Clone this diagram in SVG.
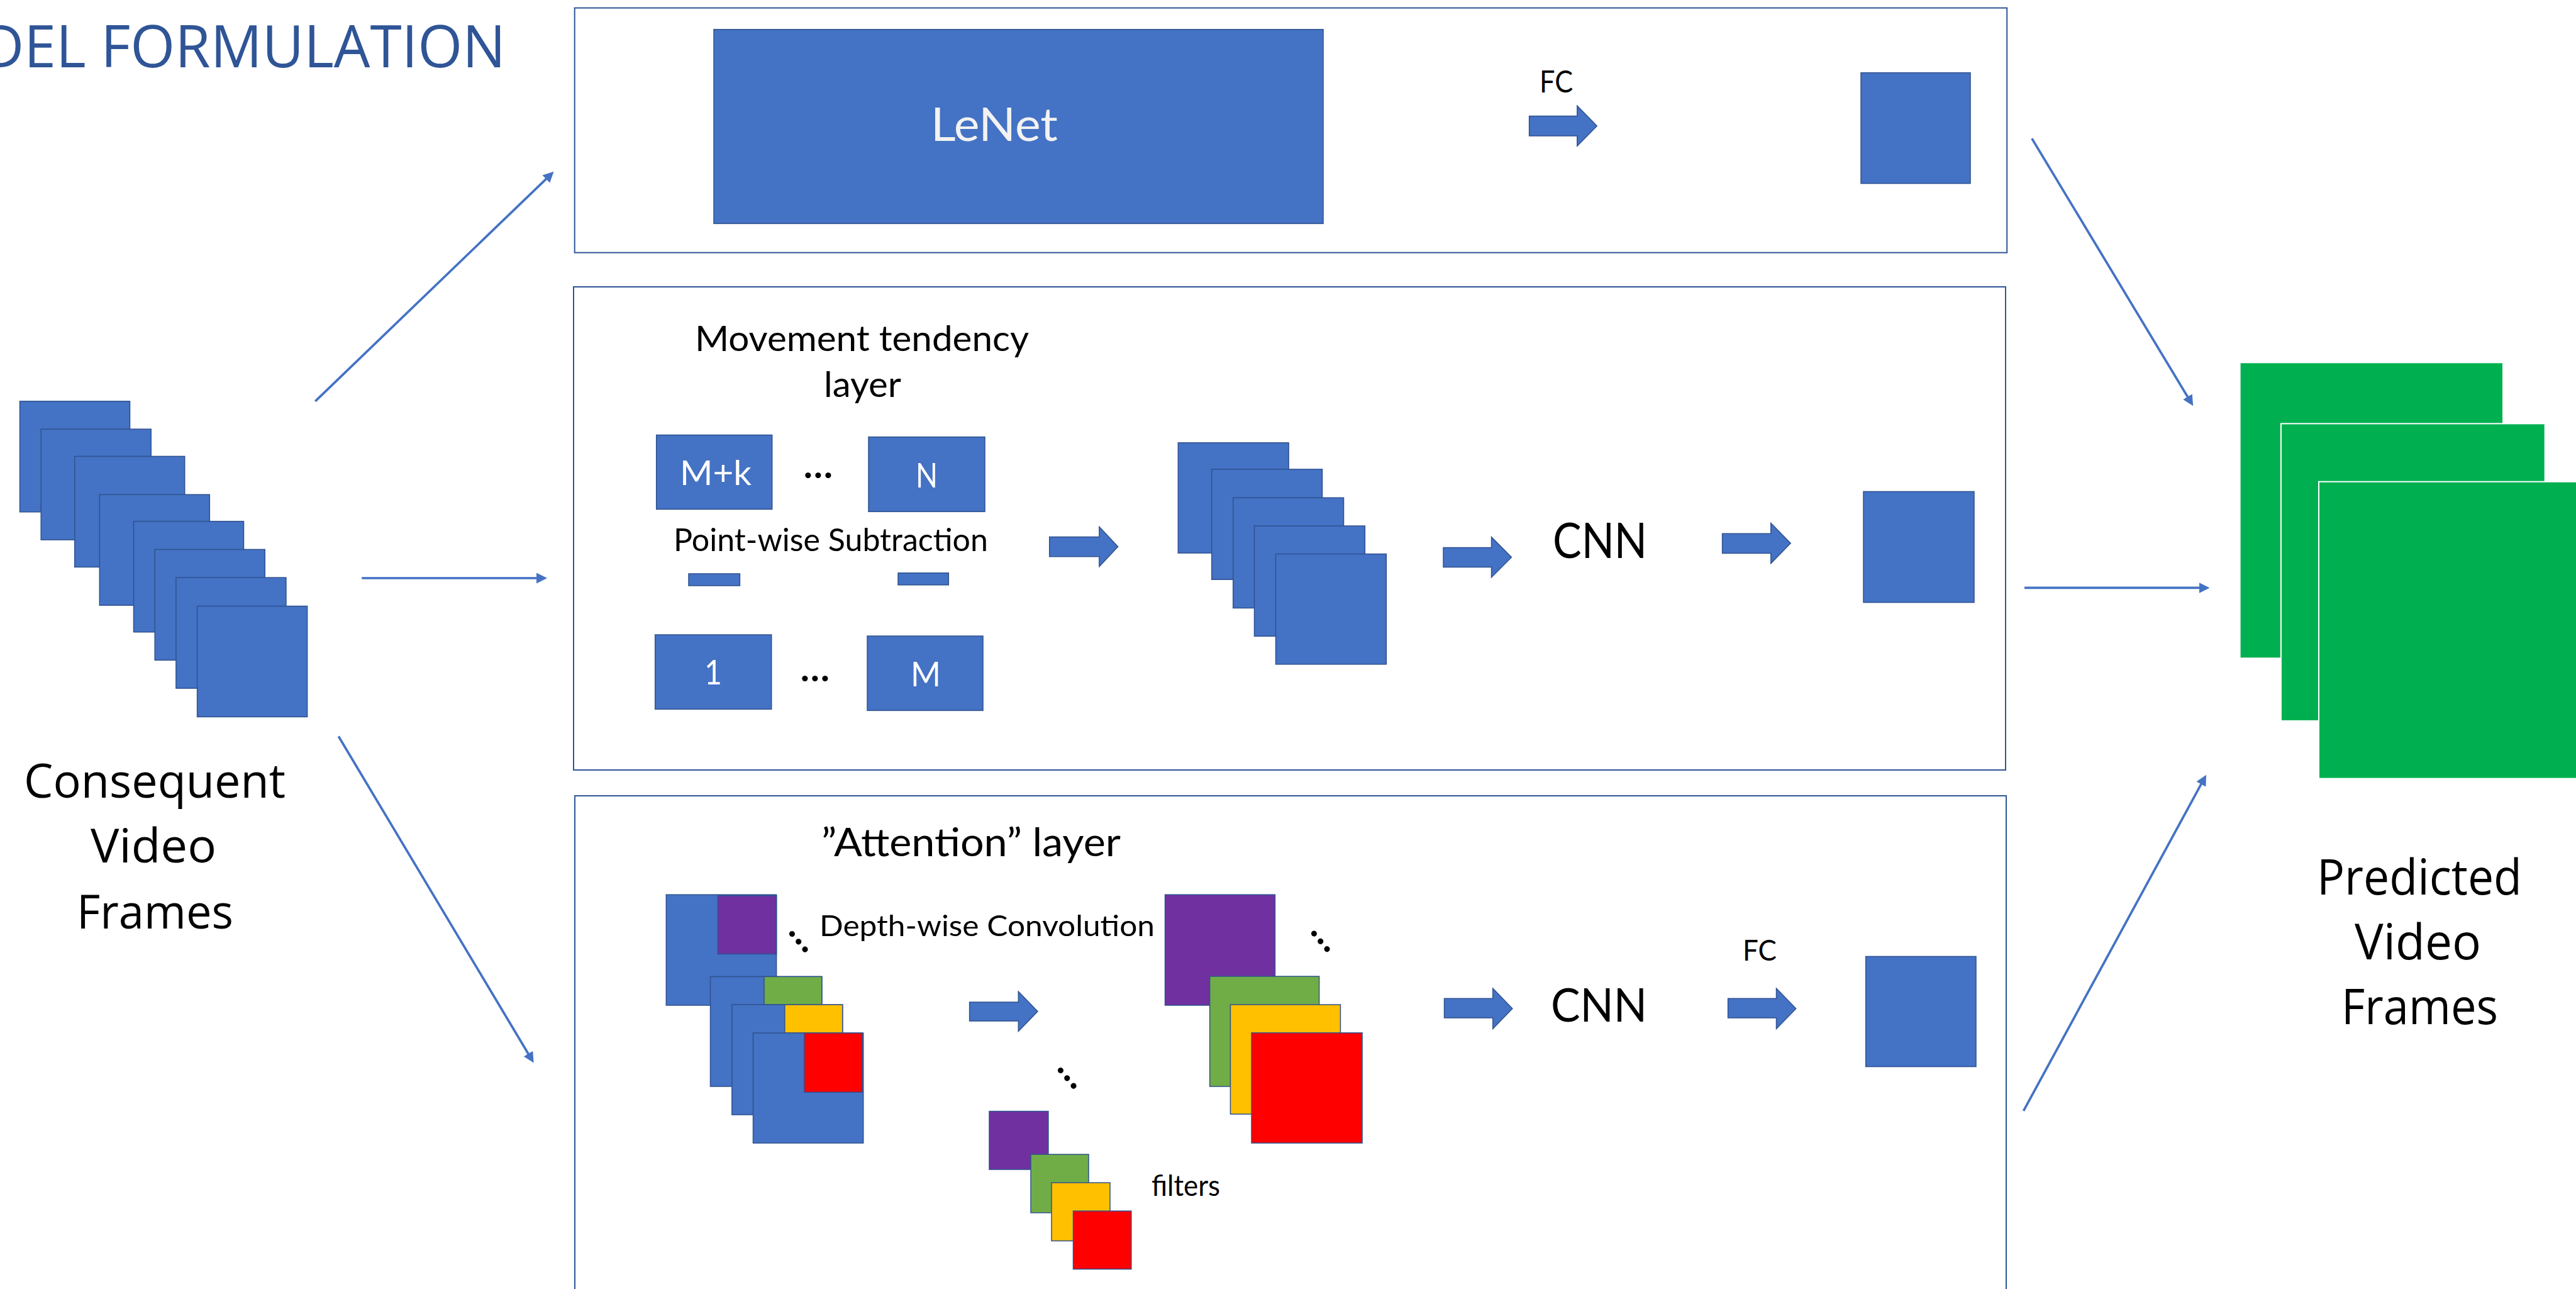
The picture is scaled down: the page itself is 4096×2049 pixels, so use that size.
<svg xmlns="http://www.w3.org/2000/svg" width="4096" height="2049" viewBox="0 0 4096 2049">
  <style>
    .blue { fill: #4472C4; stroke: #2F528F; stroke-width: 1.5; }
    .purple { fill: #7030A0; stroke: #2F528F; stroke-width: 1.5; }
    .green { fill: #70AD47; stroke: #2F528F; stroke-width: 1.5; }
    .yellow { fill: #FFC000; stroke: #2F528F; stroke-width: 1.5; }
    .red { fill: #FF0000; stroke: #2F528F; stroke-width: 1.5; }
    .out { fill: #00B050; stroke: #FFFFFF; stroke-width: 2; }
    .panel { fill: none; stroke: #2F5597; stroke-width: 2; }
    .lbl { font-family: Lato, "Liberation Sans", sans-serif; fill: #000000; }
    .inbox { font-family: Lato, "Liberation Sans", sans-serif; fill: #FFFFFF; }
    .dots { font-family: Lato, "Liberation Sans", sans-serif; font-weight: bold; font-size: 60px; fill: #000000; }
    .caption { font-family: "Open Sans", "DejaVu Sans", sans-serif; fill: #000000; }
    .conn { fill: none; stroke: #4472C4; stroke-width: 3.7; marker-end: url(#head); }
  </style>
  <defs>
    <marker id="head" viewBox="0 0 17 17" refX="5" refY="8.5" markerWidth="17" markerHeight="17" markerUnits="userSpaceOnUse" orient="auto">
      <path d="M0,0 L17,8.5 L0,17 Z" fill="#4472C4"/>
    </marker>
  </defs>

  <rect width="4096" height="2049" fill="#FFFFFF"/>

  <!-- heading, partly off the left edge -->
  <g id="title">
    <text x="-28" y="106.5" font-family="'Open Sans', 'DejaVu Sans', sans-serif" font-size="93" fill="#2F5597" textLength="832" lengthAdjust="spacingAndGlyphs">DEL FORMULATION</text>
  </g>

  <!-- input frame stack -->
  <g id="input-frames">
    <rect class="blue" x="31.5" y="637.8" width="175" height="176"/>
    <rect class="blue" x="65.2" y="682.1" width="175" height="176"/>
    <rect class="blue" x="118.7" y="725.4" width="175" height="176"/>
    <rect class="blue" x="158.3" y="786.2" width="175" height="176"/>
    <rect class="blue" x="212.5" y="828.7" width="175" height="176"/>
    <rect class="blue" x="246.2" y="873.4" width="175" height="176"/>
    <rect class="blue" x="279.9" y="918.1" width="175" height="176"/>
    <rect class="blue" x="313.6" y="963.5" width="175" height="176"/>
    <text class="caption" x="38" y="1268.3" font-size="75" textLength="416" lengthAdjust="spacingAndGlyphs">Consequent</text>
    <text class="caption" x="144" y="1371.4" font-size="75" textLength="200" lengthAdjust="spacingAndGlyphs">Video</text>
    <text class="caption" x="122" y="1476" font-size="75" textLength="249" lengthAdjust="spacingAndGlyphs">Frames</text>
  </g>

  <!-- branch 1: LeNet + FC -->
  <g id="box-lenet">
    <rect class="panel" x="913.7" y="12.6" width="2277.5" height="389"/>
    <rect class="blue" x="1135" y="46.8" width="969" height="308.6"/>
    <text class="inbox" x="1480" y="224.2" font-size="74" style="fill:#F2F2F2" textLength="202" lengthAdjust="spacingAndGlyphs">LeNet</text>
    <text class="lbl" x="2448" y="147.3" font-size="49" textLength="53" lengthAdjust="spacingAndGlyphs">FC</text>
    <path class="blue" d="M2431.6,184.5 L2507.8,184.5 L2507.8,168.2 L2539.2,200.2 L2507.8,232.2 L2507.8,215.9 L2431.6,215.9 Z"/>
    <rect class="blue" x="2959" y="115.6" width="174" height="176"/>
  </g>

  <!-- branch 2: movement tendency layer -->
  <g id="box-movement">
    <rect class="panel" x="912" y="456" width="2277" height="768"/>
    <text class="lbl" x="1105" y="557.6" font-size="56" textLength="531" lengthAdjust="spacingAndGlyphs">Movement tendency</text>
    <text class="lbl" x="1310" y="631.4" font-size="56" textLength="123" lengthAdjust="spacingAndGlyphs">layer</text>
    <rect class="blue" x="1043.7" y="691.5" width="184" height="118"/>
    <text class="inbox" x="1081" y="771" font-size="55" textLength="114" lengthAdjust="spacingAndGlyphs">M+k</text>
    <text class="dots" x="1301" y="760" text-anchor="middle">…</text>
    <rect class="blue" x="1381" y="694.6" width="185" height="118.7"/>
    <text class="inbox" x="1456" y="774.5" font-size="55" textLength="35" lengthAdjust="spacingAndGlyphs">N</text>
    <text class="lbl" x="1071" y="876.3" font-size="50" textLength="500" lengthAdjust="spacingAndGlyphs">Point-wise Subtraction</text>
    <rect class="blue" x="1095" y="912" width="81.4" height="19"/>
    <rect class="blue" x="1428" y="910.8" width="80.3" height="19"/>
    <rect class="blue" x="1041.7" y="1009" width="185" height="118.3"/>
    <text class="inbox" x="1120" y="1088" font-size="55" textLength="28" lengthAdjust="spacingAndGlyphs">1</text>
    <text class="dots" x="1296" y="1083" text-anchor="middle">…</text>
    <rect class="blue" x="1379" y="1011" width="184" height="118.4"/>
    <text class="inbox" x="1448" y="1091" font-size="55" textLength="48" lengthAdjust="spacingAndGlyphs">M</text>
    <path class="blue" d="M1668.7,853.4 L1747.9,853.4 L1747.9,837.5 L1777.6,869 L1747.9,900.5 L1747.9,884.7 L1668.7,884.7 Z"/>
    <rect class="blue" x="1873.3" y="703.8" width="175.8" height="175.3"/>
    <rect class="blue" x="1926.7" y="745.9" width="175.8" height="175.3"/>
    <rect class="blue" x="1960.7" y="791.2" width="175.8" height="175.3"/>
    <rect class="blue" x="1994.5" y="836" width="175.8" height="175.3"/>
    <rect class="blue" x="2028.5" y="880.6" width="175.8" height="175.3"/>
    <path class="blue" d="M2295,870.4 L2371.5,870.4 L2371.5,853.6 L2403.4,885.7 L2371.5,917.8 L2371.5,901.4 L2295,901.4 Z"/>
    <text class="lbl" x="2469" y="886.6" font-size="77" textLength="150" lengthAdjust="spacingAndGlyphs">CNN</text>
    <path class="blue" d="M2738.6,848.2 L2815.8,848.2 L2815.8,831.5 L2847.2,863.5 L2815.8,895.6 L2815.8,879.5 L2738.6,879.5 Z"/>
    <rect class="blue" x="2963" y="781.4" width="176" height="176.2"/>
  </g>

  <!-- branch 3: attention layer with depth-wise convolution -->
  <g id="box-attention">
    <rect class="panel" x="914" y="1265" width="2276" height="900"/>
    <text class="lbl" x="1306" y="1360.8" font-size="61" textLength="476" lengthAdjust="spacingAndGlyphs">”Attention” layer</text>
    <rect class="blue" x="1059.3" y="1422.2" width="175.3" height="175.8"/>
    <rect class="purple" x="1141.4" y="1423.8" width="93.2" height="92.7"/>
    <rect class="blue" x="1129.5" y="1552.4" width="177.3" height="174.6"/>
    <rect class="green" x="1215" y="1552.4" width="91.8" height="44.6"/>
    <rect class="blue" x="1163.8" y="1597" width="175.9" height="175"/>
    <rect class="yellow" x="1247.8" y="1597" width="91.9" height="45"/>
    <rect class="blue" x="1197.5" y="1642" width="175.2" height="175"/>
    <rect class="red" x="1278.8" y="1642" width="92.4" height="94.2"/>
    <text class="dots" transform="translate(1269.6,1497) rotate(50)" y="4" text-anchor="middle">…</text>
    <text class="lbl" x="1303" y="1487.8" font-size="47" textLength="533" lengthAdjust="spacingAndGlyphs">Depth-wise Convolution</text>
    <path class="blue" d="M1541.6,1593 L1619.3,1593 L1619.3,1576 L1650,1607.7 L1619.3,1639.4 L1619.3,1623 L1541.6,1623 Z"/>
    <text class="dots" transform="translate(1696.8,1713.8) rotate(50)" y="4" text-anchor="middle">…</text>
    <rect class="purple" x="1573" y="1766.5" width="93.9" height="92.5"/>
    <rect class="green" x="1639" y="1835" width="92" height="92.8"/>
    <rect class="yellow" x="1672" y="1880" width="93" height="92.5"/>
    <rect class="red" x="1706.5" y="1925" width="92.3" height="92.4"/>
    <text class="lbl" x="1831" y="1901" font-size="46" textLength="109" lengthAdjust="spacingAndGlyphs">filters</text>
    <rect class="purple" x="1852.5" y="1422.2" width="174.9" height="175.8"/>
    <rect class="green" x="1923.6" y="1552" width="174" height="175"/>
    <rect class="yellow" x="1956.4" y="1597" width="175" height="174"/>
    <rect class="red" x="1990" y="1641.8" width="176" height="175.2"/>
    <text class="dots" transform="translate(2099.7,1496.5) rotate(50)" y="4" text-anchor="middle">…</text>
    <path class="blue" d="M2296.5,1587.3 L2373.7,1587.3 L2373.7,1571 L2404.8,1603.2 L2373.7,1635.4 L2373.7,1618 L2296.5,1618 Z"/>
    <text class="lbl" x="2466" y="1624.4" font-size="73" textLength="153" lengthAdjust="spacingAndGlyphs">CNN</text>
    <text class="lbl" x="2771" y="1527.3" font-size="46" textLength="54" lengthAdjust="spacingAndGlyphs">FC</text>
    <path class="blue" d="M2747.6,1587.3 L2824.5,1587.3 L2824.5,1571 L2855.7,1603.2 L2824.5,1635.4 L2824.5,1618 L2747.6,1618 Z"/>
    <rect class="blue" x="2966.7" y="1520.4" width="175.3" height="175.1"/>
  </g>

  <!-- output frame stack -->
  <g id="predicted-frames">
    <rect class="out" x="3561.6" y="576.3" width="418.4" height="470"/>
    <rect class="out" x="3626.9" y="673.4" width="419.8" height="472.6"/>
    <rect class="out" x="3687" y="765.7" width="420" height="471.9"/>
    <text class="caption" x="3684" y="1422.2" font-size="78" textLength="326" lengthAdjust="spacingAndGlyphs">Predicted</text>
    <text class="caption" x="3744" y="1524.8" font-size="78" textLength="201" lengthAdjust="spacingAndGlyphs">Video</text>
    <text class="caption" x="3723" y="1628.1" font-size="78" textLength="249" lengthAdjust="spacingAndGlyphs">Frames</text>
  </g>

  <!-- connectors between inputs, branches and outputs -->
  <g id="connectors">
    <path class="conn" d="M501.3,637.8 L871.9,281.1"/>
    <path class="conn" d="M575.2,919 L858,919"/>
    <path class="conn" d="M538.3,1170.5 L842.5,1679.3"/>
    <path class="conn" d="M3230.8,220.1 L3481,635"/>
    <path class="conn" d="M3219,934.4 L3501.5,934.4"/>
    <path class="conn" d="M3217.5,1765.8 L3502.3,1242.2"/>
  </g>
</svg>
